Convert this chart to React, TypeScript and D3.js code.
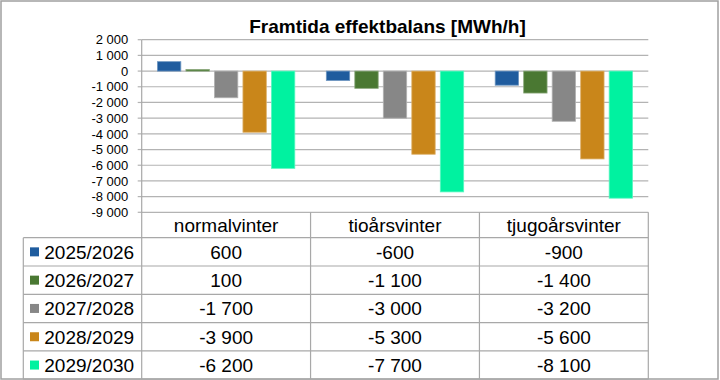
import React from "react";
import * as d3 from "d3";

const categories = ["normalvinter", "tioårsvinter", "tjugoårsvinter"];
const seriesNames = ["2025/2026", "2026/2027", "2027/2028", "2028/2029", "2029/2030"];
const seriesColors = ["#1F5C9E", "#4A7832", "#878787", "#C9861A", "#00F2A0"];
const s2025 = [600, -600, -900];
const s2026 = [100, -1100, -1400];
const s2027 = [-1700, -3000, -3200];
const s2028 = [-3900, -5300, -5600];
const s2029 = [-6200, -7700, -8100];
const seriesValues = [s2025, s2026, s2027, s2028, s2029];
const yTicks = [2000, 1000, 0, -1000, -2000, -3000, -4000, -5000, -6000, -7000, -8000, -9000];
const title = "Framtida effektbalans [MWh/h]";

const W = 720;
const H = 380;
const FONT = "'Liberation Sans', Arial, sans-serif";

const fmt = (v: number) => {
  const s = Math.abs(v).toString().replace(/\B(?=(\d{3})+(?!\d))/g, " ");
  return (v < 0 ? "-" : "") + s;
};

export default function App() {
  const left = 141.7;
  const right = 648.3;
  const y = d3.scaleLinear().domain([-9000, 2000]).range([212.3, 39.7]);
  const x0 = d3.scaleBand<string>().domain(categories).range([left, right]).padding(0);
  const x1 = d3
    .scaleBand<string>()
    .domain(seriesNames)
    .range([0, x0.bandwidth()])
    .paddingInner(0.18)
    .paddingOuter(0.553);

  const gridColor = "#b3b3b3";
  const tableColor = "#a8a8a8";
  const tableTop = y(-9000);
  const headerH = 25.4;
  const rowH = 28.3;
  const legendLeft = 23.3;
  const rowsTop = tableTop + headerH;
  const tableBottom = rowsTop + rowH * seriesNames.length;

  const mix = (c: string) => d3.interpolateRgb(c, "#ffffff")(0.35);

  return (
    <svg
      width={W}
      height={H}
      style={{ position: "absolute", left: 0, top: 0, background: "#fff" }}
      fontFamily={FONT}
    >
      <rect x={0} y={0} width={W} height={H} fill="#fff" />
      <rect x={1} y={1} width={717} height={378} fill="none" stroke="#a0a0a0" strokeWidth={1.5} />
      <text x={387.5} y={33.3} textAnchor="middle" fontSize={19} fontWeight="bold" fill="#000">
        {title}
      </text>
      {yTicks.map((t) => (
        <g key={t}>
          <line x1={left} x2={right} y1={y(t)} y2={y(t)} stroke={gridColor} strokeWidth={1.2} />
          <line x1={left - 4} x2={left} y1={y(t)} y2={y(t)} stroke={gridColor} strokeWidth={1.2} />
          <text x={128.3} y={y(t)} dy="0.36em" textAnchor="end" fontSize={13} fill="#000">
            {fmt(t)}
          </text>
        </g>
      ))}
      {seriesNames.map((s, si) =>
        categories.map((c, ci) => {
          const v = seriesValues[si][ci];
          const x = (x0(c) as number) + (x1(s) as number);
          const y0 = y(0);
          const yv = y(v);
          return (
            <rect
              key={s + c}
              x={x}
              y={Math.min(y0, yv)}
              width={x1.bandwidth()}
              height={Math.abs(yv - y0)}
              fill={seriesColors[si]}
              stroke={mix(seriesColors[si])}
              strokeWidth={0.8}
            />
          );
        })
      )}
      {/* axis line */}
      <line x1={left} x2={left} y1={y(2000)} y2={tableBottom} stroke={tableColor} strokeWidth={1.2} />
      {/* table */}
      {categories.map((c) => (
        <g key={c}>
          <line
            x1={(x0(c) as number) + x0.bandwidth()}
            x2={(x0(c) as number) + x0.bandwidth()}
            y1={tableTop}
            y2={tableBottom}
            stroke={tableColor}
            strokeWidth={1.2}
          />
          <text
            x={(x0(c) as number) + x0.bandwidth() / 2}
            y={tableTop + headerH / 2}
            dy="0.36em"
            textAnchor="middle"
            fontSize={19}
            fill="#000"
          >
            {c}
          </text>
        </g>
      ))}
      <line x1={legendLeft} x2={legendLeft} y1={rowsTop} y2={tableBottom} stroke={tableColor} strokeWidth={1.2} />
      {seriesNames.map((s, si) => {
        const top = rowsTop + si * rowH;
        const cy = top + rowH / 2;
        return (
          <g key={s}>
            <line x1={legendLeft} x2={right} y1={top} y2={top} stroke={tableColor} strokeWidth={1.2} />
            <rect x={30} y={cy - 4.5} width={9} height={9} fill={seriesColors[si]} />
            <text x={44.3} y={cy} dy="0.36em" fontSize={19} fill="#000">
              {s}
            </text>
            {categories.map((c, ci) => (
              <text
                key={c}
                x={(x0(c) as number) + x0.bandwidth() / 2}
                y={cy}
                dy="0.36em"
                textAnchor="middle"
                fontSize={19}
                fill="#000"
              >
                {fmt(seriesValues[si][ci])}
              </text>
            ))}
          </g>
        );
      })}
      <line x1={legendLeft} x2={right} y1={tableBottom} y2={tableBottom} stroke={tableColor} strokeWidth={1.2} />
    </svg>
  );
}
